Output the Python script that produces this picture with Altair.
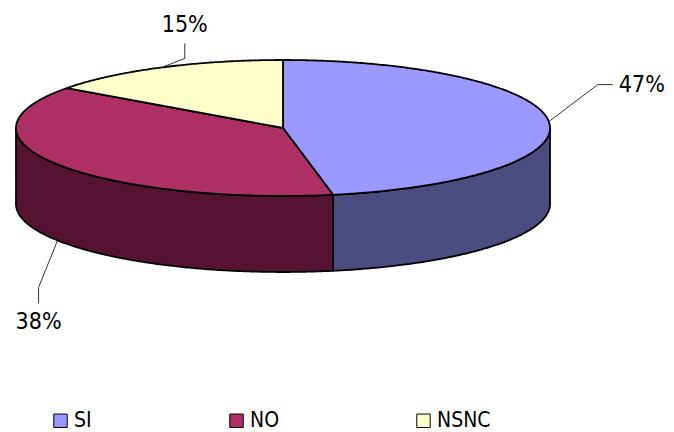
import numpy as np
import pandas as pd
import altair as alt

# ---- data ----
categories = ["SI", "NO", "NSNC"]
values = [47, 38, 15]
pct_labels = ["47%", "38%", "15%"]
top_colors = ["#9999FF", "#AE2F64", "#FFFFCC"]
side_colors = ["#4C4C80", "#561331", "#80805F"]

# ---- layout (pixels) ----
W, H = 674, 432
CX, CY, RX = 283, 128, 267
TILT = 68 / 267          # ellipse ry / rx
DEPTH = 76 / 267         # pie thickness, in radius units
FONT = "DejaVu Sans Condensed"
# leader elbow / end / text offsets from rim anchor (pixels, y down)
leader_layout = {
    "SI":   dict(elbow=(49, -37), end=(64, -37), text=(70, -37), align="left"),
    "NO":   dict(elbow=(-19, 47), end=(-19, 63), text=(-19, 82), align="center"),
    "NSNC": dict(elbow=(23, -9), end=(23, -24), text=(23, -42), align="center"),
}

xdom = [-CX / RX, (W - CX) / RX]
ydom = [-(H - CY) / RX, CY / RX]

total = float(sum(values))
tops, sides, leaders, texts = [], [], [], []
start = 0.0
for cat, val, lab in zip(categories, values, pct_labels):
    t0 = start
    t1 = start + val / total * 2 * np.pi
    start = t1
    ts = np.linspace(t0, t1, max(3, int(np.degrees(t1 - t0) * 2)))
    pts = [(0.0, 0.0)] + [(np.sin(t), np.cos(t) * TILT) for t in ts] + [(0.0, 0.0)]
    for i, (u, v) in enumerate(pts):
        tops.append(dict(cat=cat, i=i, u=u, v=v))
    a, b = max(t0, np.pi / 2), min(t1, 3 * np.pi / 2)
    if a < b:
        ts2 = np.linspace(a, b, max(3, int(np.degrees(b - a) * 2)))
        ring = [(np.sin(t), np.cos(t) * TILT) for t in ts2]
        ring += [(np.sin(t), np.cos(t) * TILT - DEPTH) for t in ts2[::-1]]
        ring.append(ring[0])
        for i, (u, v) in enumerate(ring):
            sides.append(dict(cat=cat + " side", i=i, u=u, v=v))
    # leader anchor at mid angle on the visible rim
    tm = (t0 + t1) / 2
    au, av = np.sin(tm), np.cos(tm) * TILT
    if np.pi / 2 < tm < 3 * np.pi / 2:
        av -= DEPTH
    L = leader_layout[cat]
    pts_l = [(au, av),
             (au + L["elbow"][0] / RX, av - L["elbow"][1] / RX),
             (au + L["end"][0] / RX, av - L["end"][1] / RX)]
    for i, (u, v) in enumerate(pts_l):
        leaders.append(dict(cat=cat, i=i, u=u, v=v))
    texts.append(dict(cat=cat, label=lab, align=L["align"],
                      u=au + L["text"][0] / RX, v=av - L["text"][1] / RX))

tops_df = pd.DataFrame(tops)
sides_df = pd.DataFrame(sides)
leaders_df = pd.DataFrame(leaders)
texts_df = pd.DataFrame(texts)

X = alt.X("u:Q", scale=alt.Scale(domain=xdom, nice=False, zero=False), axis=None)
Y = alt.Y("v:Q", scale=alt.Scale(domain=ydom, nice=False, zero=False), axis=None)

side_layer = alt.Chart(sides_df).mark_line(stroke="black", strokeWidth=1.8, strokeJoin="round").encode(
    x=X, y=Y, order="i:Q", detail="cat:N",
    fill=alt.Fill("cat:N", scale=alt.Scale(domain=[c + " side" for c in categories], range=side_colors), legend=None),
)

top_layer = alt.Chart(tops_df).mark_line(stroke="black", strokeWidth=1.8, strokeJoin="round").encode(
    x=X, y=Y, order="i:Q", detail="cat:N",
    fill=alt.Fill("cat:N", scale=alt.Scale(domain=categories, range=top_colors),
                  legend=alt.Legend(orient="none", legendX=50, legendY=410, direction="horizontal",
                                    title=None, symbolType="square", symbolSize=180,
                                    symbolStrokeColor="black", symbolStrokeWidth=1,
                                    symbolOpacity=1, labelFont=FONT, labelFontSize=21,
                                    labelColor="black", columnPadding=134, labelOffset=3)),
)

leader_layer = alt.Chart(leaders_df).mark_line(stroke="#333333", strokeWidth=1).encode(
    x=X, y=Y, order="i:Q", detail="cat:N")

text_left = alt.Chart(texts_df).transform_filter(alt.datum.align == "left").mark_text(
    font=FONT, fontSize=23, color="black", baseline="middle", align="left"
).encode(x=X, y=Y, text="label:N")
text_center = alt.Chart(texts_df).transform_filter(alt.datum.align == "center").mark_text(
    font=FONT, fontSize=23, color="black", baseline="middle", align="center"
).encode(x=X, y=Y, text="label:N")

chart = alt.layer(side_layer, top_layer, leader_layer, text_left, text_center).resolve_scale(
    fill="independent"
).properties(
    width=W, height=H, autosize=alt.AutoSizeParams(type="none"), padding=0,
    background="white"
).configure_view(stroke=None)

chart.save("out.html", embed_options={"renderer": "svg", "actions": False})
